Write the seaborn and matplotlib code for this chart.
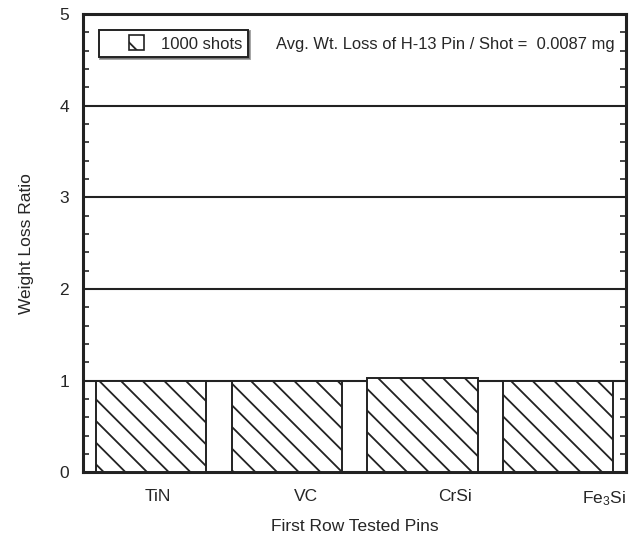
#!/usr/bin/env python3
"""
Weight loss ratio of first row tested pins (1000 shots)
"""

import matplotlib
matplotlib.use("Agg")
import matplotlib.pyplot as plt
from matplotlib.patches import Patch, Rectangle
from matplotlib.legend_handler import HandlerPatch
from matplotlib.ticker import MultipleLocator
import seaborn as sns

# data
pins = ["TiN", "VC", "CrSi", "Fe3Si"]
pin_labels = ["TiN", "VC", "CrSi", "Fe$_3$Si"]
loss_ratio = [1.0, 1.0, 1.03, 1.0]
y_ticks = [0, 1, 2, 3, 4, 5]

# lower dpi so the hatch spacing comes out like the scan;
# S converts "100 dpi points" to the points used here
DPI = 65
S = 100 / DPI

sns.set_style("white")
plt.rcParams["font.family"] = ["Liberation Sans", "DejaVu Sans"]
plt.rcParams["mathtext.fontset"] = "custom"
plt.rcParams["mathtext.rm"] = "Liberation Sans"
plt.rcParams["mathtext.it"] = "Liberation Sans"
plt.rcParams["hatch.linewidth"] = 1.3 * S
plt.rcParams["hatch.color"] = "#222222"

fig = plt.figure(figsize=(632 / DPI, 539 / DPI), dpi=DPI)
ax = fig.add_axes([0.131, 0.124, 0.860, 0.850])

sns.barplot(x=pins, y=loss_ratio, color="white", saturation=1,
            edgecolor="#222222", linewidth=1.4 * S, width=0.81,
            hatch="\\", ax=ax, zorder=3)

# horizontal grid lines at integer ratios
for v in y_ticks[1:-1]:
    ax.axhline(v, color="#222222", lw=1.5 * S, zorder=1)

ax.set_xlim(-0.5, 3.5)
ax.set_ylim(0, 5)
ax.set_yticks(y_ticks)
ax.yaxis.set_minor_locator(MultipleLocator(0.2))
ax.tick_params(axis="y", which="both", direction="in", left=True, right=True,
               width=1.2 * S, labelsize=12.5 * S, pad=10 * S)
ax.tick_params(axis="y", which="major", length=0)
ax.tick_params(axis="y", which="minor", length=4 * S)

# category labels sit offset from bar centres in the original
ax.set_xticks([0.05 + 1.095 * i for i in range(len(pins))])
ax.set_xticklabels(pin_labels)
ax.tick_params(axis="x", length=0, labelsize=12.5 * S, pad=12 * S)

for s in ax.spines.values():
    s.set_visible(True)
    s.set_linewidth(2.2 * S)
    s.set_color("#222222")

ax.set_xlabel("First Row Tested Pins", fontsize=12.5 * S, labelpad=8 * S)
ax.set_ylabel("Weight Loss Ratio", fontsize=12.5 * S, labelpad=18 * S)


def square_right(legend, orig_handle, xdescent, ydescent, width, height, fontsize):
    # small square pushed to the right end of the handle area
    return Rectangle((-xdescent + width - height, -ydescent), height, height)


handle = Patch(facecolor="white", edgecolor="#222222", hatch="\\", lw=1.2 * S)
leg = ax.legend([handle], ["1000 shots"], loc="upper left",
                bbox_to_anchor=(0.029, 0.966), fontsize=12 * S,
                handlelength=2.4, handleheight=1.0, handletextpad=1.0,
                borderpad=0.35, borderaxespad=0, shadow=True, fancybox=False,
                frameon=True, edgecolor="#222222", framealpha=1,
                handler_map={Patch: HandlerPatch(patch_func=square_right)})
leg.get_frame().set_linewidth(1.4 * S)

ax.text(0.355, 0.934, "Avg. Wt. Loss of H-13 Pin / Shot =  0.0087 mg",
        transform=ax.transAxes, fontsize=11.9 * S, va="center", ha="left")

fig.savefig("out.png", dpi=DPI)
